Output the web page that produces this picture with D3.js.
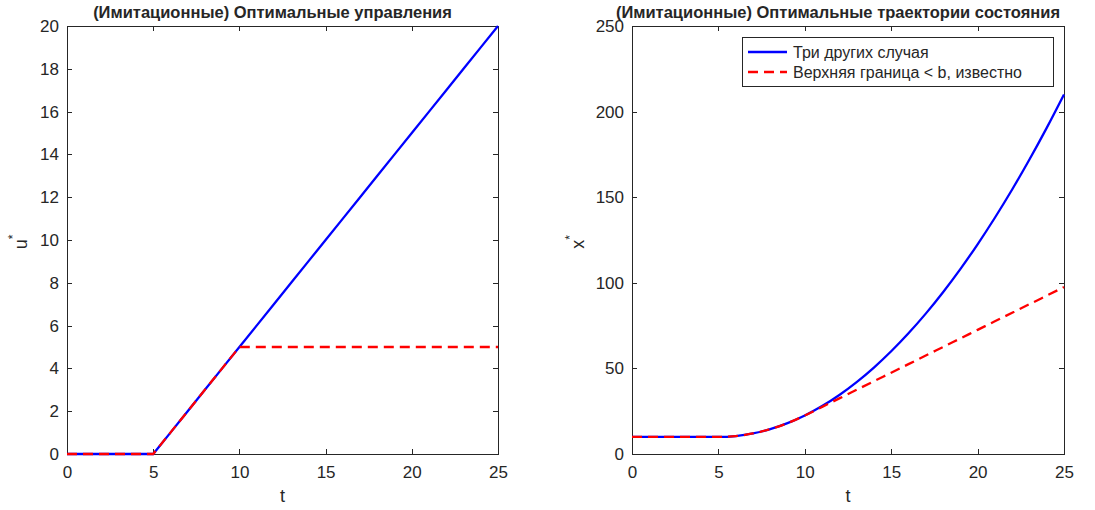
<!DOCTYPE html>
<html>
<head>
<meta charset="utf-8">
<script src="https://cdn.jsdelivr.net/npm/d3@7"></script>
<style>
  body { margin: 0; background: #fff; }
  text { font-family: "Liberation Sans", Arial, sans-serif; fill: #262626; }
</style>
</head>
<body>
<svg id="chart" width="1095" height="510"></svg>
<script>
// time grid (t)
var tVals = [0, 1, 2, 3, 4, 5, 6, 7, 8, 9, 10, 11, 12, 13, 14, 15, 16, 17, 18, 19, 20, 21, 22, 23, 24, 25];
// optimal controls u*
var uBlue = [0, 0, 0, 0, 0, 0, 1, 2, 3, 4, 5, 6, 7, 8, 9, 10, 11, 12, 13, 14, 15, 16, 17, 18, 19, 20];
var uRed  = [0, 0, 0, 0, 0, 0, 1, 2, 3, 4, 5, 5, 5, 5, 5, 5, 5, 5, 5, 5, 5, 5, 5, 5, 5, 5];
// state trajectories x*
var xBlue = [10, 10, 10, 10, 10, 10, 10.5, 12, 14.5, 18, 22.5, 28, 34.5, 42, 50.5, 60, 70.5, 82, 94.5, 108, 122.5, 138, 154.5, 172, 190.5, 210];
var xRed  = [10, 10, 10, 10, 10, 10, 10.5, 12, 14.5, 18, 22.5, 27.5, 32.5, 37.5, 42.5, 47.5, 52.5, 57.5, 62.5, 67.5, 72.5, 77.5, 82.5, 87.5, 92.5, 97.5];

var xTicks = [0, 5, 10, 15, 20, 25];
var uTicks = [0, 2, 4, 6, 8, 10, 12, 14, 16, 18, 20];
var sTicks = [0, 50, 100, 150, 200, 250];

var titles = ["(Имитационные) Оптимальные управления", "(Имитационные) Оптимальные траектории состояния"];
var legendLabels = ["Три других случая", "Верхняя граница < b, известно"];

var svg = d3.select("#chart");

function panel(left, right, yMax, yTicks, blue, red, title, ylab, showLegend, curve) {
  var top = 26, bottom = 454;
  var x = d3.scaleLinear().domain([0, 25]).range([left, right]);
  var y = d3.scaleLinear().domain([0, yMax]).range([bottom, top]);
  var g = svg.append("g");

  // axes first, lines drawn on top
  var ax = g.append("g").attr("transform", "translate(0," + bottom + ")")
    .call(d3.axisBottom(x).tickValues(xTicks).tickSizeInner(-5).tickSizeOuter(0).tickPadding(12));
  var axTop = g.append("g").attr("transform", "translate(0," + top + ")")
    .call(d3.axisTop(x).tickValues(xTicks).tickSizeInner(-5).tickSizeOuter(0).tickFormat(""));
  var ay = g.append("g").attr("transform", "translate(" + left + ",0)")
    .call(d3.axisLeft(y).tickValues(yTicks).tickSizeInner(-5).tickSizeOuter(0).tickPadding(8));
  var ayR = g.append("g").attr("transform", "translate(" + right + ",0)")
    .call(d3.axisRight(y).tickValues(yTicks).tickSizeInner(-5).tickSizeOuter(0).tickFormat(""));
  [ax, axTop, ay, ayR].forEach(function(a) {
    a.selectAll("path").attr("stroke", "#262626").attr("shape-rendering", "crispEdges");
    a.selectAll("line").attr("stroke", "#262626").attr("shape-rendering", "crispEdges");
    a.selectAll("text").attr("font-size", 17).attr("fill", "#262626")
      .attr("font-family", "Liberation Sans, Arial, sans-serif");
  });

  var line = d3.line()
    .x(function(d, i) { return x(tVals[i]); })
    .y(function(d) { return y(d); })
    .curve(curve);

  g.append("path").datum(blue)
    .attr("fill", "none").attr("stroke", "#0000ff")
    .attr("stroke-width", 2.3).attr("d", line);
  g.append("path").datum(red)
    .attr("fill", "none").attr("stroke", "#ff0000")
    .attr("stroke-width", 2.3).attr("stroke-dasharray", "10,6")
    .attr("d", line);

  g.append("text").attr("x", (left + right) / 2 - 10).attr("y", 18)
    .attr("text-anchor", "middle").attr("font-weight", "bold")
    .attr("font-size", 16.5).attr("fill", "#000").text(title);

  g.append("text").attr("x", (left + right) / 2).attr("y", 502)
    .attr("text-anchor", "middle").attr("font-size", 18).text("t");

  var yl = g.append("text")
    .attr("transform", "translate(" + (left - (yMax > 100 ? 48 : 40)) + "," + 242 + ") rotate(-90)")
    .attr("text-anchor", "middle").attr("font-size", 18);
  yl.append("tspan").text(ylab);
  yl.append("tspan").attr("dy", -10).attr("font-size", 12).text("*");

  if (showLegend) {
    var lg = g.append("g");
    lg.append("rect").attr("x", 742.5).attr("y", 37.5).attr("width", 311).attr("height", 49)
      .attr("fill", "#fff").attr("stroke", "#262626").attr("stroke-width", 1);
    [["#0000ff", null], ["#ff0000", "10,6"]].forEach(function(s, i) {
      var yy = 52 + i * 20;
      lg.append("line").attr("x1", 748).attr("x2", 787).attr("y1", yy).attr("y2", yy)
        .attr("stroke", s[0]).attr("stroke-width", 2.3).attr("stroke-dasharray", s[1]);
      lg.append("text").attr("x", 793).attr("y", yy + 5.5).attr("font-size", 16)
        .attr("fill", "#000").text(legendLabels[i]);
    });
  }
}

panel(67, 498, 20, uTicks, uBlue, uRed, titles[0], "u", false, d3.curveLinear);
panel(632, 1064, 250, sTicks, xBlue, xRed, titles[1], "x", true, d3.curveMonotoneX);
</script>
</body>
</html>
